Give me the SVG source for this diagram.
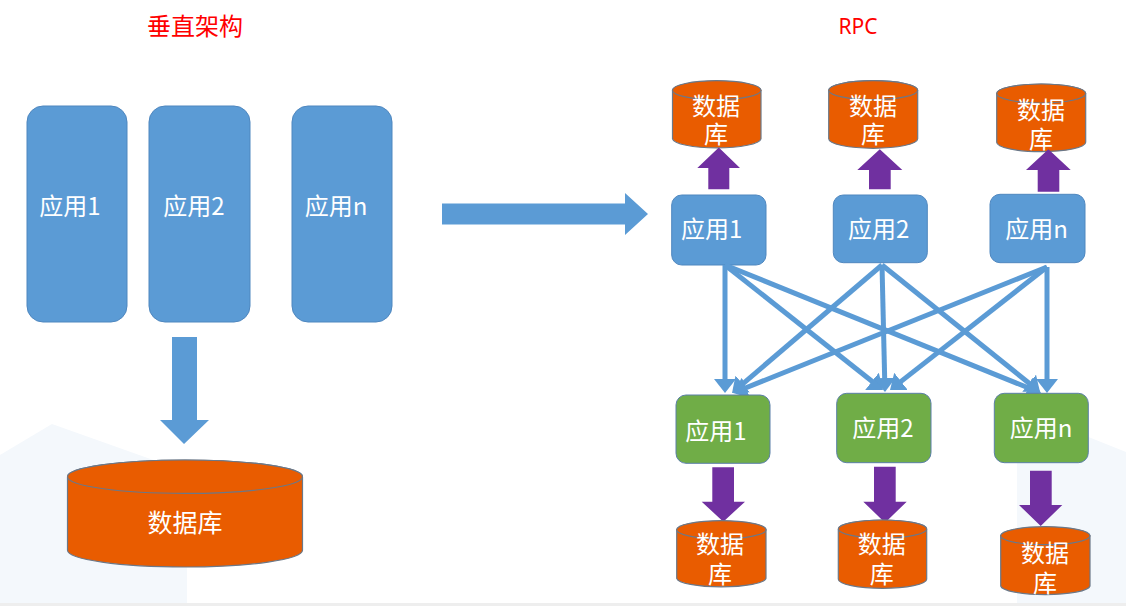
<svg xmlns="http://www.w3.org/2000/svg" width="1126" height="606" viewBox="0 0 1126 606">
<defs>
<style>
.t{font-family:"Noto Sans CJK SC","Noto Sans",sans-serif;fill:#fff;text-anchor:middle}
.title{font-family:"Noto Sans CJK SC","Noto Sans",sans-serif;fill:#ff0000;font-size:24px;text-anchor:middle}
.blue{fill:#5b9bd5;stroke:#4f87bf;stroke-width:1}
.green{fill:#70ad47;stroke:#5b7fa8;stroke-width:1}
.db{fill:#e95c00;stroke:#6b7888;stroke-width:1.2}
.purple{fill:#7030a0}
.bigarrow{fill:#5b9bd5}
.link{stroke:#5b9bd5;stroke-width:5;fill:none;marker-end:url(#ah)}
</style>
<marker id="ah" markerUnits="userSpaceOnUse" markerWidth="14" markerHeight="22" viewBox="0 0 14 22" refX="6" refY="11" orient="auto">
<path d="M0,0 L14,11 L0,22 z" fill="#5b9bd5"/>
</marker>
</defs>
<rect width="1126" height="606" fill="#ffffff"/>
<polygon points="0,455 52,424 187,472 187,603 0,603" fill="#f4f8fc"/>
<polygon points="1017,458 1066,428 1126,452 1126,603 1017,603" fill="#f4f8fc"/>
<rect x="0" y="603" width="1126" height="3" fill="#eeeeee"/>

<text class="title" x="195" y="35">垂直架构</text>
<text class="title" x="858" y="34" style="font-family:'Noto Sans',sans-serif;font-size:21px">RPC</text>

<!-- Left: vertical architecture -->
<g id="v-app1"><rect class="blue" x="27" y="106" width="100" height="216" rx="16"/><text class="t" x="70" y="215" font-size="24">应用1</text></g>
<g id="v-app2"><rect class="blue" x="149" y="106" width="101" height="216" rx="16"/><text class="t" x="194" y="215" font-size="24">应用2</text></g>
<g id="v-appn"><rect class="blue" x="292" y="106" width="100" height="216" rx="16"/><text class="t" x="336" y="215" font-size="24">应用n</text></g>
<g id="v-arrow"><polygon class="bigarrow" points="172,337 197,337 197,420 209,420 184,444 160,420 172,420"/></g>
<g id="v-db">
<path class="db" d="M67.5,476.7 A117.5,16.7 0 0 1 302.5,476.7 L302.5,550.3 A117.5,16.7 0 0 1 67.5,550.3 Z"/>
<ellipse class="db" cx="185" cy="476.7" rx="117.5" ry="16.7"/>
<text class="t" x="185" y="532" font-size="25">数据库</text>
</g>

<!-- Transition arrow -->
<g id="transition"><polygon class="bigarrow" points="442,203.5 625,203.5 625,193 648,214 625,235 625,224.5 442,224.5"/></g>

<!-- Right: RPC top databases -->
<g id="db-t1">
<path class="db" d="M672.5,90.2 A44.3,9.5 0 0 1 761,90.2 L761,138.8 A44.3,9.5 0 0 1 672.5,138.8 Z"/>
<ellipse class="db" cx="716.7" cy="90.2" rx="44.3" ry="9.5"/>
<text class="t" font-size="24"><tspan x="716" y="115">数据</tspan><tspan x="716" y="143">库</tspan></text>
</g>
<g id="db-t2">
<path class="db" d="M828.7,90.2 A44.5,9.5 0 0 1 917.7,90.2 L917.7,138.8 A44.5,9.5 0 0 1 828.7,138.8 Z"/>
<ellipse class="db" cx="873.2" cy="90.2" rx="44.5" ry="9.5"/>
<text class="t" font-size="24"><tspan x="873" y="115">数据</tspan><tspan x="873" y="143">库</tspan></text>
</g>
<g id="db-t3">
<path class="db" d="M996.7,93.5 A44.5,9.5 0 0 1 1085.7,93.5 L1085.7,142.2 A44.5,9.5 0 0 1 996.7,142.2 Z"/>
<ellipse class="db" cx="1041.2" cy="93.5" rx="44.5" ry="9.5"/>
<text class="t" font-size="24"><tspan x="1041" y="119">数据</tspan><tspan x="1041" y="148">库</tspan></text>
</g>

<!-- purple up arrows -->
<g id="up-arrows">
<polygon class="purple" points="708.3,189.3 729.3,189.3 729.3,168 740,168 718.8,147.5 697.3,168 708.3,168"/>
<polygon class="purple" points="869,189.3 890.7,189.3 890.7,170 902.3,170 879.8,149.3 857.3,170 869,170"/>
<polygon class="purple" points="1037.7,191.7 1059.3,191.7 1059.3,170 1070.7,170 1048.4,149.3 1026,170 1037.7,170"/>
</g>

<!-- top apps -->
<g id="app-t1"><rect class="blue" x="671.7" y="195" width="94.3" height="70" rx="10"/><text class="t" x="711.7" y="238" font-size="24">应用1</text></g>
<g id="app-t2"><rect class="blue" x="833.3" y="195" width="94" height="67.7" rx="10"/><text class="t" x="878.7" y="238" font-size="24">应用2</text></g>
<g id="app-tn"><rect class="blue" x="990" y="194.3" width="95" height="68.4" rx="10"/><text class="t" x="1036.5" y="238" font-size="24">应用n</text></g>

<!-- connectors -->
<g id="connectors">
<line class="link" x1="725" y1="265" x2="725" y2="385"/>
<line class="link" x1="725" y1="265" x2="876.7" y2="385"/>
<line class="link" x1="725" y1="265" x2="1033.6" y2="390"/>
<line class="link" x1="882" y1="265" x2="738.1" y2="387.8"/>
<line class="link" x1="882" y1="265" x2="884.8" y2="384"/>
<line class="link" x1="882" y1="265" x2="1033.8" y2="387"/>
<line class="link" x1="1047" y1="267" x2="740.4" y2="390"/>
<line class="link" x1="1047" y1="267" x2="896.3" y2="385.1"/>
<line class="link" x1="1047" y1="267" x2="1047" y2="385"/>
</g>

<!-- bottom apps -->
<g id="app-b1"><rect class="green" x="676" y="395" width="94" height="68.3" rx="10"/><text class="t" x="716" y="440" font-size="24">应用1</text></g>
<g id="app-b2"><rect class="green" x="836.7" y="393.3" width="94.3" height="69.4" rx="10"/><text class="t" x="883" y="437" font-size="24">应用2</text></g>
<g id="app-bn"><rect class="green" x="994.3" y="393.3" width="94" height="69.4" rx="10"/><text class="t" x="1041" y="437" font-size="24">应用n</text></g>

<!-- purple down arrows -->
<g id="down-arrows">
<polygon class="purple" points="712.3,467.3 734,467.3 734,501.7 745,501.7 723.3,521.7 701.7,501.7 712.3,501.7"/>
<polygon class="purple" points="874,466.7 895.7,466.7 895.7,501.7 906.7,501.7 885,522.7 863.3,501.7 874,501.7"/>
<polygon class="purple" points="1030,470.7 1051.7,470.7 1051.7,505 1062.3,505 1040.7,526 1019,505 1030,505"/>
</g>

<!-- bottom databases -->
<g id="db-b1">
<path class="db" d="M676.7,529.7 A44.7,9 0 0 1 766,529.7 L766,578.3 A44.7,9 0 0 1 676.7,578.3 Z"/>
<ellipse class="db" cx="721.3" cy="529.7" rx="44.7" ry="9"/>
<text class="t" font-size="24"><tspan x="720" y="553">数据</tspan><tspan x="720" y="583">库</tspan></text>
</g>
<g id="db-b2">
<path class="db" d="M838.3,529 A44.2,9 0 0 1 926.7,529 L926.7,579.3 A44.2,9 0 0 1 838.3,579.3 Z"/>
<ellipse class="db" cx="882.5" cy="529" rx="44.2" ry="9"/>
<text class="t" font-size="24"><tspan x="881.7" y="553">数据</tspan><tspan x="881.7" y="583">库</tspan></text>
</g>
<g id="db-b3">
<path class="db" d="M1000.7,535.7 A44.7,9 0 0 1 1090,535.7 L1090,586 A44.7,9 0 0 1 1000.7,586 Z"/>
<ellipse class="db" cx="1045.3" cy="535.7" rx="44.7" ry="9"/>
<text class="t" font-size="24"><tspan x="1045" y="561.7">数据</tspan><tspan x="1045" y="591.7">库</tspan></text>
</g>
</svg>
